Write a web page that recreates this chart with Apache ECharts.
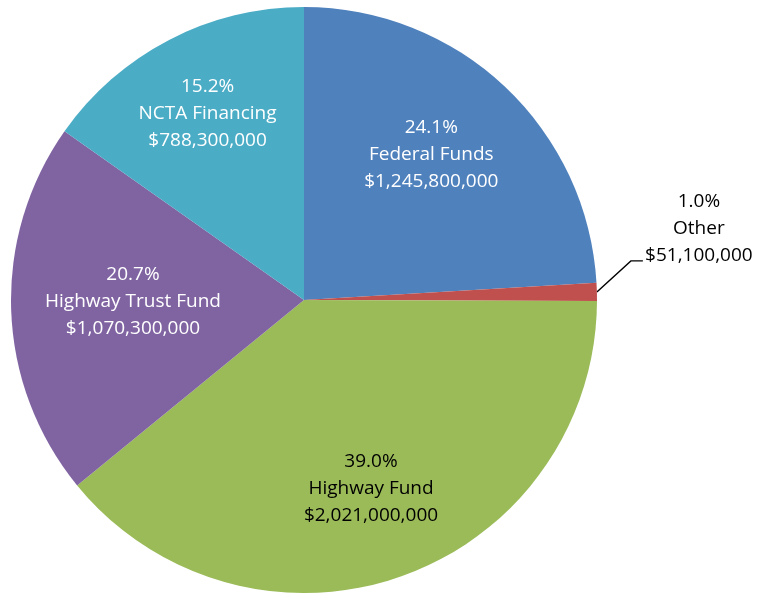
<!DOCTYPE html>
<html>
<head>
<meta charset="utf-8">
<script src="https://cdn.jsdelivr.net/npm/echarts@6/dist/echarts.min.js"></script>
<style>html,body{margin:0;padding:0;background:#fff;}#c{width:757px;height:594px;}</style>
</head>
<body>
<div id="c"></div>
<script>
// ---- data ----
const categories = ['Federal Funds', 'Other', 'Highway Fund', 'Highway Trust Fund', 'NCTA Financing'];
const values = [1245800000, 51100000, 2021000000, 1070300000, 788300000];

// ---- style ----
const colors = ['#4F81BD', '#C0504D', '#9BBB59', '#8064A2', '#4BACC6'];
const textColors = ['#ffffff', '#000000', '#000000', '#ffffff', '#ffffff'];
const labelRadiusRatio = [0.658, 1, 0.684, 0.584, 0.715];
const CX = 304, CY = 300, R = 293;
const FONT = 'Open Sans';

const total = values.reduce((a, b) => a + b, 0);
const midAngles = [];
let cum = 0;
values.forEach(v => { midAngles.push((cum + v / 2) / total * Math.PI * 2); cum += v; });

function fmtMoney(v) {
  return '$' + String(v).replace(/\B(?=(\d{3})+(?!\d))/g, ',');
}

const chart = echarts.init(document.getElementById('c'), null, {renderer: 'canvas'});
chart.setOption({
  animation: false,
  backgroundColor: '#ffffff',
  series: [{
    type: 'pie',
    center: [CX, CY],
    radius: [0, R],
    startAngle: 90,
    clockwise: true,
    avoidLabelOverlap: false,
    percentPrecision: 1,
    itemStyle: {borderWidth: 0},
    emphasis: {disabled: true},
    label: {
      position: 'inside',
      fontFamily: FONT,
      fontSize: 19,
      lineHeight: 27,
      align: 'center',
      formatter: p => p.percent.toFixed(1) + '%\n' + p.name + '\n' + fmtMoney(p.value)
    },
    labelLine: {show: false},
    labelLayout: function (params) {
      const i = params.dataIndex;
      const a = midAngles[i];
      if (i === 1) {
        const ex = CX + R * Math.sin(a), ey = CY - R * Math.cos(a);
        const p1 = [ex + 34, ey - 31];
        const p2 = [p1[0] + 12, p1[1]];
        return {
          x: p2[0] + 56, y: p2[1] - 32,
          align: 'center', verticalAlign: 'middle',
          labelLinePoints: [[ex, ey], p1, p2]
        };
      }
      const r = R * labelRadiusRatio[i];
      return {
        x: CX + r * Math.sin(a) - (i === 0 ? 5 : 0),
        y: CY - r * Math.cos(a) - (i === 0 ? 5 : 0) - (i === 3 ? 4 : 0),
        align: 'center', verticalAlign: 'middle'
      };
    },
    data: categories.map((name, i) => ({
      name: name,
      value: values[i],
      itemStyle: {color: colors[i]},
      label: i === 1 ? {position: 'outside', color: textColors[i]} : {color: textColors[i]},
      labelLine: i === 1 ? {show: true, length: 20, length2: 10, lineStyle: {color: '#000', width: 1.4}} : {show: false}
    }))
  }]
});
</script>
</body>
</html>
